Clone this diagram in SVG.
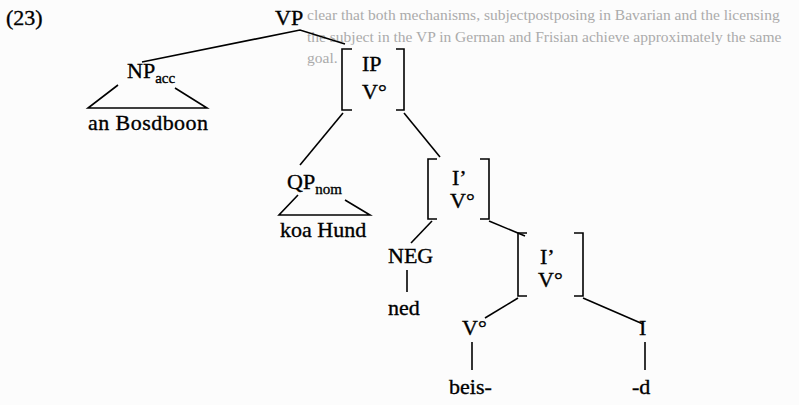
<svg xmlns="http://www.w3.org/2000/svg" width="799" height="405" viewBox="0 0 799 405">
<style>
.bgd{font-family:"Liberation Serif","Times New Roman",serif;font-size:15.5px;fill:#ababab}
.lbl{font-family:"Liberation Serif","Times New Roman",serif;font-size:22px;fill:#000;stroke:#000;stroke-width:0.35}
.sub{font-size:15px}
.ln{stroke:#000;stroke-width:1.6;fill:none}
</style>
<rect width="799" height="405" fill="#fcfcfc"/>
<g id="bleed">
<text class="bgd" x="307" y="20">clear that both mechanisms, subjectpostposing in Bavarian and the licensing</text>
<text class="bgd" x="307" y="42">the subject in the VP in German and Frisian achieve approximately the same</text>
<text class="bgd" x="307" y="63">goal.</text>
</g>
<text id="exnum" class="lbl" x="6" y="25">(23)</text>
<g id="connectors">
<path class="ln" d="M142,62 L300,30 L345,44"/>
<path class="ln" d="M118,85 L88,108 L207,108 L175,88"/>
<path class="ln" d="M343,113 L300,165"/>
<path class="ln" d="M404,113 L440,157"/>
<path class="ln" d="M298,195 L279,215 L370,215 L345,200"/>
<path class="ln" d="M432,221 L411,243"/>
<path class="ln" d="M407,270 L407,292"/>
<path class="ln" d="M489,221 L525,236"/>
<path class="ln" d="M518,298 L485,318"/>
<path class="ln" d="M583,298 L643,324"/>
<path class="ln" d="M472,342 L472,370"/>
<path class="ln" d="M645,342 L645,370"/>
</g>
<g id="VP"><text class="lbl" x="275" y="25">VP</text></g>
<g id="NPacc"><text class="lbl" x="127" y="78">NP<tspan class="sub" dy="5">acc</tspan></text></g>
<g id="anBosdboon"><text class="lbl" x="88" y="130" textLength="120">an Bosdboon</text></g>
<g id="IP">
<path class="ln" d="M352,49 L342,49 L342,110 L352,110 M396,49 L404,49 L404,110 L396,110"/>
<text class="lbl" x="362" y="71">IP</text>
<text class="lbl" x="362" y="99">V°</text>
</g>
<g id="QPnom"><text class="lbl" x="287" y="189">QP<tspan class="sub" dy="5">nom</tspan></text></g>
<g id="koaHund"><text class="lbl" x="280" y="237">koa Hund</text></g>
<g id="Ibar1">
<path class="ln" d="M437,159 L428,159 L428,219 L437,219 M480,159 L489,159 L489,219 L480,219"/>
<text class="lbl" x="452" y="185">I’</text>
<text class="lbl" x="450" y="208">V°</text>
</g>
<g id="NEG"><text class="lbl" x="388" y="263">NEG</text></g>
<g id="ned"><text class="lbl" x="388" y="315">ned</text></g>
<g id="Ibar2">
<path class="ln" d="M527,233 L518,233 L518,296 L527,296 M574,233 L583,233 L583,296 L574,296"/>
<text class="lbl" x="540" y="264">I’</text>
<text class="lbl" x="538" y="287">V°</text>
</g>
<g id="V0"><text class="lbl" x="462" y="335">V°</text></g>
<g id="I"><text class="lbl" x="639" y="335">I</text></g>
<g id="beis"><text class="lbl" x="449" y="394">beis-</text></g>
<g id="d"><text class="lbl" x="632" y="394">-d</text></g>
</svg>
